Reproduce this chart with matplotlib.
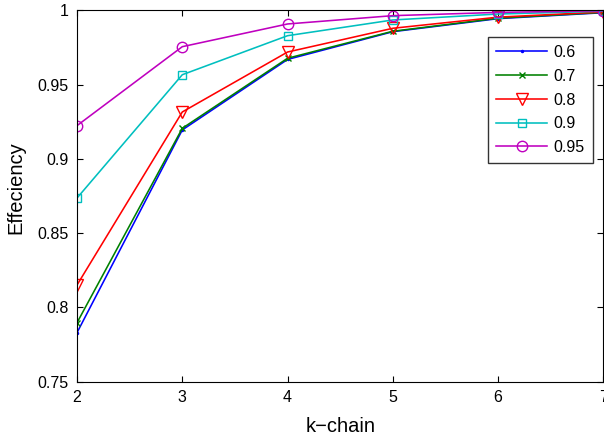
import matplotlib
matplotlib.use("Agg")
import matplotlib.pyplot as plt

plt.rcParams['font.family'] = ['Liberation Sans', 'DejaVu Sans']

k_chain = [2, 3, 4, 5, 6, 7]
labels = ['0.6', '0.7', '0.8', '0.9', '0.95']
s06 = [0.7829, 0.9195, 0.9670, 0.9857, 0.9945, 0.9985]
s07 = [0.7896, 0.9206, 0.9678, 0.9860, 0.9948, 0.9987]
s08 = [0.8150, 0.9316, 0.9720, 0.9880, 0.9955, 0.9990]
s09 = [0.8736, 0.9567, 0.9830, 0.9936, 0.9976, 0.9995]
s095 = [0.9224, 0.9756, 0.9909, 0.9965, 0.9987, 0.9998]

series = [s06, s07, s08, s09, s095]
colors = ['#0000ff', '#008000', '#ff0000', '#00bfbf', '#bf00bf']
markers = ['.', 'x', 'v', 's', 'o']
msizes = [3, 5, 8, 5.8, 7.5]

fig = plt.figure(figsize=(6.04, 4.36), dpi=100)
ax = fig.add_axes([0.1275, 0.125, 0.8715, 0.851])

for ys, lab, c, m, ms in zip(series, labels, colors, markers, msizes):
    ax.plot(k_chain, ys, color=c, marker=m, markersize=ms,
            markerfacecolor='none' if m not in ('.', 'x') else c,
            markeredgecolor=c, linewidth=1.15, label=lab)

ax.set_xlim(2, 7)
ax.set_ylim(0.75, 1.0)
ax.set_xticks([2, 3, 4, 5, 6, 7])
ax.set_yticks([0.75, 0.8, 0.85, 0.9, 0.95, 1.0])
ax.set_yticklabels(['0.75', '0.8', '0.85', '0.9', '0.95', '1'])
ax.tick_params(direction='in', top=True, right=True, labelsize=11.5, length=4, pad=6)
ax.set_xlabel('k\u2212chain', fontsize=14.5, labelpad=9)
ax.set_ylabel('Effeciency', fontsize=14.5)
ax.yaxis.set_label_coords(-0.099, 0.5216)

leg = ax.legend(loc='upper right', bbox_to_anchor=(0.980, 0.9286), borderaxespad=0,
                fontsize=11.5, frameon=True, fancybox=False, edgecolor='black',
                handlelength=3.2, borderpad=0.5, labelspacing=0.55, handletextpad=0.4)
leg.get_frame().set_linewidth(1.0)

fig.savefig('out.png', dpi=100)
